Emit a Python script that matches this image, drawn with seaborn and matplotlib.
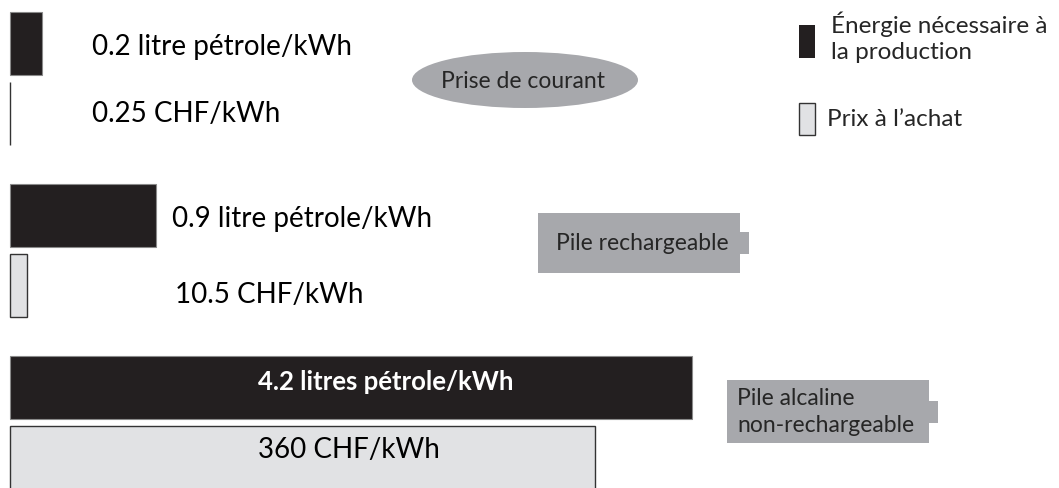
import matplotlib
matplotlib.use("Agg")
import matplotlib.pyplot as plt
import seaborn as sns
import pandas as pd
from matplotlib.patches import Ellipse, Rectangle

# data
groups = ["Prise de courant", "Pile rechargeable", "Pile alcaline\nnon-rechargeable"]
energy_litres = [0.2, 0.9, 4.2]          # litre pétrole / kWh
price_chf = [0.25, 10.5, 360]            # CHF / kWh
energy_labels = ["0.2 litre pétrole/kWh", "0.9 litre pétrole/kWh", "4.2 litres pétrole/kWh"]
price_labels = ["0.25 CHF/kWh", "10.5 CHF/kWh", "360 CHF/kWh"]
metric_names = ["Énergie nécessaire à\nla production", "Prix à l’achat"]
chf_per_litre_unit = 100   # price bars share the litre axis: 100 CHF <-> 1 litre

BLACK = "#231f20"
LIGHT = "#e1e2e4"
GREY = "#a7a8ac"

df = pd.DataFrame({
    "group": groups * 2,
    "metric": [metric_names[0]] * 3 + [metric_names[1]] * 3,
    "value": energy_litres + [p / chf_per_litre_unit for p in price_chf],
})

sns.set_theme(style="white")
plt.rcParams["font.family"] = ["Lato", "DejaVu Sans"]

W, H = 1059, 488
fig = plt.figure(figsize=(W / 100, H / 100), dpi=100)
ax = fig.add_axes([0, 0, 1, 1])

sns.barplot(data=df, x="value", y="group", hue="metric", orient="h",
            order=groups, hue_order=metric_names,
            palette=[BLACK, LIGHT], saturation=1, width=0.814, gap=0.1,
            legend=False, ax=ax)

for bar in ax.containers[0]:
    bar.set_edgecolor("#8a8a8a")
    bar.set_linewidth(0.8)
for bar in ax.containers[1]:
    bar.set_edgecolor("#333333")
    bar.set_linewidth(1.0)

# 162.4 px per litre, bars start at x=10 px; group spacing 172 px
ax.set_xlim(-10 / 162.4, (W - 10) / 162.4)
ax.set_ylim((H - 78.5) / 172, -78.5 / 172)
ax.axis("off")

# overlay in pixel coordinates for annotations
ov = fig.add_axes([0, 0, 1, 1])
ov.set_xlim(0, W)
ov.set_ylim(H, 0)
ov.axis("off")

FS = 20
# bar labels (x px, baseline px)
energy_pos = [(92, 55), (172, 227), (258, 390)]
price_pos = [(92, 122), (175, 303), (258, 458)]
for i, (x, y) in enumerate(energy_pos):
    last = i == 2
    ov.text(x, y, energy_labels[i], va="baseline",
            color="white" if last else "black",
            fontsize=18.5 if last else FS,
            fontweight="bold" if last else "normal")
for i, (x, y) in enumerate(price_pos):
    ov.text(x, y, price_labels[i], fontsize=FS, va="baseline", color="black")

# group callouts
ov.add_patch(Ellipse((525, 80), 226, 56, facecolor=GREY, edgecolor="none"))
ov.text(523, 81, groups[0], fontsize=16.5, ha="center", va="center")

ov.add_patch(Rectangle((538, 213), 202, 60, facecolor=GREY, edgecolor="none"))
ov.add_patch(Rectangle((738, 232), 11, 22, facecolor=GREY, edgecolor="none"))
ov.text(556, 244, groups[1], fontsize=16.5, ha="left", va="center")

ov.add_patch(Rectangle((727, 380), 202, 63, facecolor=GREY, edgecolor="none"))
ov.add_patch(Rectangle((927, 401), 11, 22, facecolor=GREY, edgecolor="none"))
ov.text(737, 412, groups[2], fontsize=16.5, ha="left", va="center", linespacing=1.4)

# legend
ov.add_patch(Rectangle((799, 25), 16, 33, facecolor=BLACK, edgecolor="none"))
ov.text(831, 37, metric_names[0], fontsize=17.5, ha="left", va="center", linespacing=1.3)
ov.add_patch(Rectangle((799, 103), 16, 32, facecolor=LIGHT, edgecolor="#333333", linewidth=1.0))
ov.text(827, 119, metric_names[1], fontsize=17.5, ha="left", va="center")

fig.savefig("out.png", dpi=100, facecolor="white")
